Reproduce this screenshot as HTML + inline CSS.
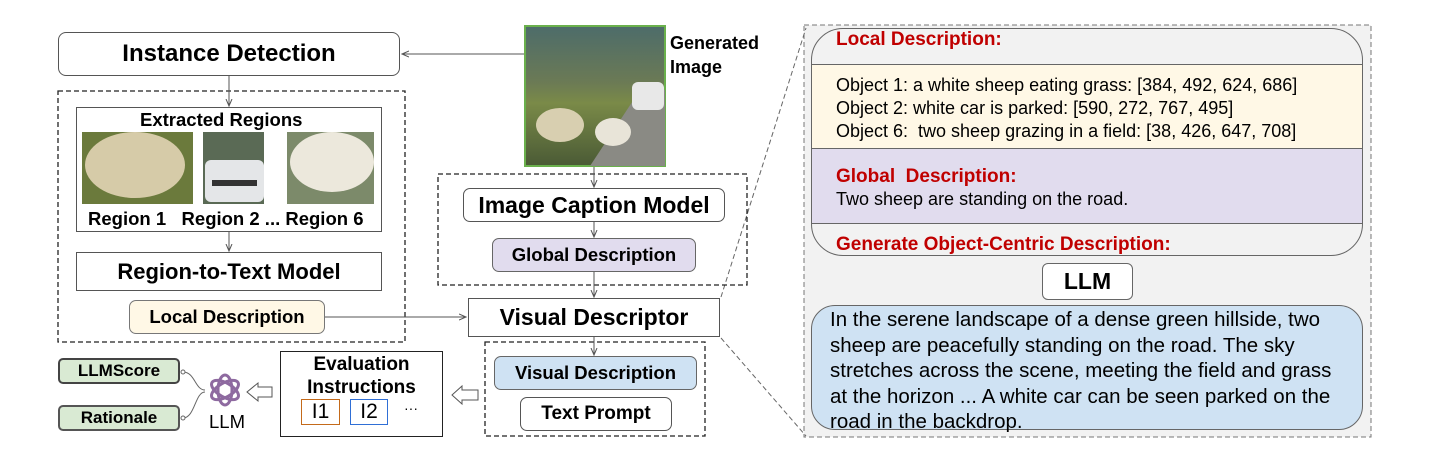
<!DOCTYPE html>
<html><head><meta charset="utf-8"><style>
body{margin:0;width:1432px;height:455px;background:#fff;position:relative;overflow:hidden;font-family:"Liberation Sans",Arial,sans-serif;}
.a{position:absolute;box-sizing:border-box;display:flex;align-items:center;justify-content:center;text-align:center;white-space:nowrap;}
.b{font-weight:bold;}
.t{position:absolute;white-space:nowrap;}
.red{color:#c00000;font-weight:bold;font-size:19px;}
</style></head><body>
<svg width="1432" height="455" style="position:absolute;left:0;top:0">
<defs><marker id="ar" markerWidth="8" markerHeight="8" refX="7" refY="4" orient="auto"><path d="M0,1 L7,4 L0,7" fill="none" stroke="#555" stroke-width="1"/></marker></defs>
<rect x="804" y="25" width="567" height="412" fill="#f2f2f2" stroke="#777" stroke-dasharray="5,3"/>
<line x1="721" y1="297" x2="806" y2="28" stroke="#666" stroke-dasharray="5,3"/>
<line x1="721" y1="338" x2="806" y2="436" stroke="#666" stroke-dasharray="5,3"/>
<rect x="58" y="91" width="347" height="251" fill="none" stroke="#222" stroke-width="1.3" stroke-dasharray="5,3"/>
<rect x="438" y="174" width="309" height="111" fill="none" stroke="#222" stroke-width="1.3" stroke-dasharray="5,3"/>
<rect x="485" y="342" width="220" height="94" fill="none" stroke="#222" stroke-width="1.3" stroke-dasharray="5,3"/>
<g stroke="#555" stroke-width="1" fill="none" marker-end="url(#ar)">
<line x1="524" y1="54" x2="402" y2="54"/>
<line x1="229" y1="76" x2="229" y2="106"/>
<line x1="229" y1="232" x2="229" y2="251"/>
<line x1="325" y1="317" x2="466" y2="317"/>
<line x1="594" y1="166" x2="594" y2="187"/>
<line x1="594" y1="222" x2="594" y2="237"/>
<line x1="594" y1="272" x2="594" y2="297"/>
<line x1="594" y1="337" x2="594" y2="355"/>
</g>
<path d="M478,390 L462,390 L462,386 L452,395 L462,404 L462,400 L478,400 Z" fill="#fff" stroke="#555"/>
<path d="M272,387 L258,387 L258,383 L247,392 L258,401 L258,397 L272,397 Z" fill="#fff" stroke="#555"/>
<path d="M183,372 C195,372 195,390 205,390 M183,418 C195,418 195,392 205,392" stroke="#666" fill="none"/>
<circle cx="183" cy="372" r="2" fill="#fff" stroke="#666"/><circle cx="183" cy="418" r="2" fill="#fff" stroke="#666"/>
<g transform="translate(225,390)" fill="none" stroke="#8e6aa0" stroke-width="3">
<ellipse rx="7" ry="15" transform="rotate(0)"/><ellipse rx="7" ry="15" transform="rotate(60)"/><ellipse rx="7" ry="15" transform="rotate(120)"/>
</g>
<defs>
<linearGradient id="g1" x1="0" y1="0" x2="0" y2="1"><stop offset="0" stop-color="#4d6c6a"/><stop offset="0.4" stop-color="#6b7a55"/><stop offset="0.55" stop-color="#7a8a48"/><stop offset="1" stop-color="#4a5a35"/></linearGradient>
</defs>
<rect x="525" y="26" width="140" height="140" fill="url(#g1)" stroke="#6ab04c" stroke-width="2"/>
<path d="M590,166 L640,90 L665,90 L665,166 Z" fill="#8a8a84"/>
<rect x="632" y="82" width="32" height="28" rx="6" fill="#e8e8e8"/>
<ellipse cx="560" cy="125" rx="24" ry="17" fill="#d8cfb0"/>
<ellipse cx="613" cy="132" rx="18" ry="14" fill="#e8e4d8"/>
<rect x="82" y="132" width="111" height="72" fill="#6b7a3c"/><ellipse cx="135" cy="165" rx="50" ry="33" fill="#d6cba8"/>
<rect x="203" y="132" width="61" height="72" fill="#5a6a55"/><rect x="205" y="160" width="59" height="42" rx="6" fill="#e4e6e8"/><rect x="212" y="180" width="45" height="6" fill="#333"/>
<rect x="287" y="132" width="87" height="72" fill="#7c8a6a"/><ellipse cx="332" cy="162" rx="42" ry="30" fill="#ece8dc"/>
</svg>

<div class="a b" style="left:58px;top:32px;width:342px;height:44px;border:1.5px solid #555;border-radius:8px;font-size:24px;background:#fff">Instance Detection</div>
<div class="t b" style="left:670px;top:31px;font-size:18px;line-height:24px">Generated<br>Image</div>
<div class="a" style="left:76px;top:107px;width:306px;height:125px;border:1.5px solid #555;"></div>
<div class="t b" style="left:140px;top:109px;font-size:18.5px">Extracted Regions</div>
<div class="t b" style="left:88px;top:208px;font-size:18.5px">Region 1&nbsp;&nbsp;&nbsp;Region 2 ... Region 6</div>
<div class="a b" style="left:76px;top:252px;width:306px;height:39px;border:1.5px solid #555;font-size:22px">Region-to-Text Model</div>
<div class="a b" style="left:129px;top:300px;width:196px;height:34px;border:1.5px solid #777;border-radius:7px;background:#fff8e6;font-size:18.5px">Local Description</div>
<div class="a b" style="left:463px;top:188px;width:262px;height:34px;border:1.5px solid #555;border-radius:7px;font-size:23px;background:#fff">Image Caption Model</div>
<div class="a b" style="left:492px;top:238px;width:204px;height:34px;border:1.5px solid #666;border-radius:7px;background:#e1dcee;font-size:18.5px">Global Description</div>
<div class="a b" style="left:468px;top:298px;width:252px;height:39px;border:1.5px solid #555;font-size:23px;background:#fff">Visual Descriptor</div>
<div class="a b" style="left:494px;top:356px;width:203px;height:34px;border:1.5px solid #666;border-radius:7px;background:#cfe2f3;font-size:18.5px">Visual Description</div>
<div class="a b" style="left:520px;top:397px;width:152px;height:34px;border:1.5px solid #555;border-radius:7px;font-size:19px">Text Prompt</div>
<div class="a" style="left:280px;top:351px;width:163px;height:86px;border:1.5px solid #222;"></div>
<div class="t b" style="left:280px;top:353px;width:163px;text-align:center;font-size:19px;line-height:23px">Evaluation<br>Instructions</div>
<div class="a" style="left:301px;top:399px;width:39px;height:26px;border:1.5px solid #c46a1a;font-size:21px">I1</div>
<div class="a" style="left:350px;top:399px;width:38px;height:26px;border:1.5px solid #2f6fd6;font-size:21px">I2</div>
<div class="t" style="left:404px;top:400px;font-size:14px">···</div>
<div class="a b" style="left:58px;top:358px;width:122px;height:26px;border:2px solid #444;border-radius:5px;background:#d9ead3;font-size:17px">LLMScore</div>
<div class="a b" style="left:58px;top:405px;width:122px;height:26px;border:2px solid #555;border-radius:5px;background:#d9ead3;font-size:17px">Rationale</div>
<div class="t" style="left:209px;top:411px;font-size:18.5px">LLM</div>

<div style="position:absolute;left:811px;top:28px;width:552px;height:228px;box-sizing:border-box;border:1.5px solid #666;border-radius:32px;overflow:hidden;background:#f2f2f2">
<div style="position:absolute;left:0;top:35px;width:100%;height:85px;background:#fff8e6;border-top:1.5px solid #666;border-bottom:1.5px solid #666;box-sizing:border-box"></div>
<div style="position:absolute;left:0;top:120px;width:100%;height:75px;background:#e1dcee;border-bottom:1.5px solid #666;box-sizing:border-box"></div>
</div>
<div class="t red" style="left:836px;top:29px">Local Description:</div>
<div class="t" style="left:836px;top:74px;font-size:18px;line-height:23px">Object 1: a white sheep eating grass: [384, 492, 624, 686]<br>Object 2: white car is parked: [590, 272, 767, 495]<br>Object 6:&nbsp; two sheep grazing in a field: [38, 426, 647, 708]</div>
<div class="t red" style="left:836px;top:166px">Global&nbsp; Description:</div>
<div class="t" style="left:836px;top:189px;font-size:18px">Two sheep are standing on the road.</div>
<div class="t red" style="left:836px;top:234px">Generate Object-Centric Description:</div>
<div class="a b" style="left:1042px;top:263px;width:91px;height:37px;border:1.5px solid #666;border-radius:6px;background:#fff;font-size:23px">LLM</div>
<div style="position:absolute;left:811px;top:305px;width:552px;height:125px;box-sizing:border-box;border:1.5px solid #666;border-radius:24px;background:#cfe2f3;padding:1px 0 0 18px;font-size:20.5px;line-height:25.5px;white-space:nowrap">In the serene landscape of a dense green hillside, two<br>sheep are peacefully standing on the road. The sky<br>stretches across the scene, meeting the field and grass<br>at the horizon ... A white car can be seen parked on the<br>road in the backdrop.</div>
</body></html>
